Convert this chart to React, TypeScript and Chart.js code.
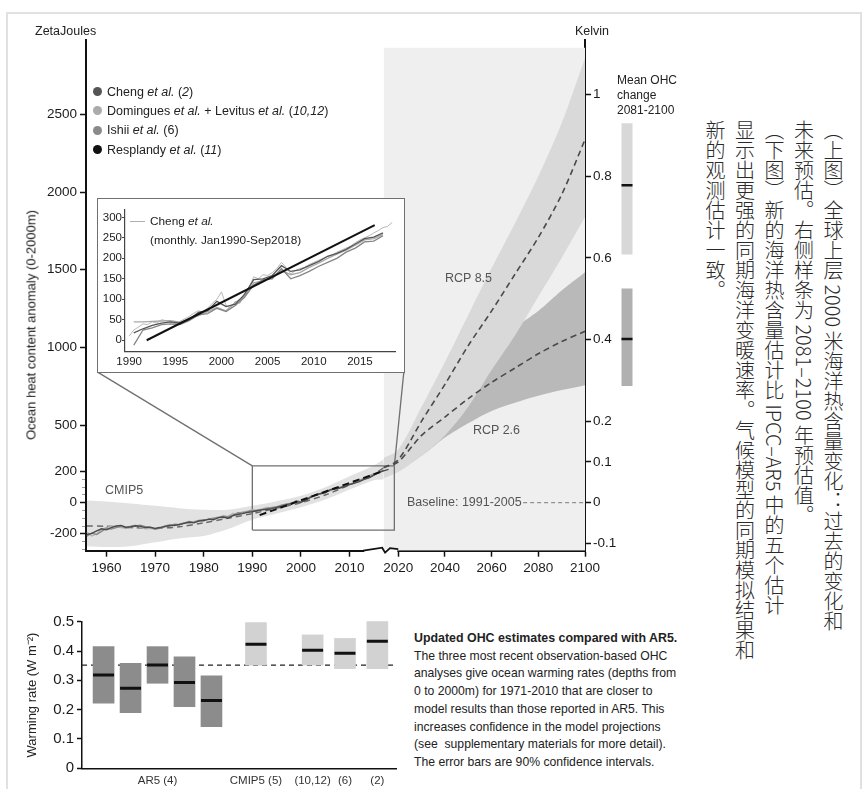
import React, { useEffect, useRef } from "react";
import { Chart, registerables } from "chart.js";
Chart.register(...registerables);

const SANS = "'Liberation Sans', Arial, sans-serif";
const CJK = "'Noto Sans CJK SC', sans-serif";

// ---------------- Main chart: ocean heat content ----------------
const zjTicks = [-200, 0, 200, 500, 1000, 1500, 2000, 2500];
const zjMinorTicks = [-300, -250, -150, -100, -50, 50, 100, 150];
const kelvinTicks = [-0.1, 0, 0.1, 0.2, 0.4, 0.6, 0.8, 1];
const yearTicks = [1960, 1970, 1980, 1990, 2000, 2010, 2020, 2040, 2060, 2080, 2100];

const ZJ_MIN = -309;
const ZJ_MAX = 2979;
const ZJ_PER_K = 2627;
const YEAR_START = 1955.8;
const YEAR_BREAK = 2020;
const YEAR_END = 2100;
const LATE_COMPRESSION = 0.48;

const obsStartYear = 1956;
const chengZJ = [
  -205, -198, -182, -168, -175, -160, -150, -146, -158, -155,
  -148, -152, -160, -157, -166, -160, -152, -147, -145, -140,
  -133, -126, -130, -118, -115, -106, -110, -96, -92, -100,
  -82, -76, -70, -62, -58, -50, -46, -42, -38, -30,
  -22, -12, -6, 8, 2, 16, 34, 52, 58, 64,
  84, 88, 95, 104, 116, 126, 136, 150, 160, 178,
  195, 205, 215,
];
const dominguesZJ = [
  -190, -214, -200, -172, -160, -150, -155, -160, -165, -150,
  -145, -158, -168, -165, -170, -162, -150, -140, -148, -138,
  -128, -130, -122, -112, -118, -104, -100, -92, -98, -88,
  -70, -72, -60, -55, -45, -48, -40, -30, -35, -25,
  -15, -15, 0, 5, 10, 20, 38, 50, 55, 70,
  80, 92, 100, 110, 118, 130, 145, 155, 168, 185,
  198, 208,
];
const ishiiZJ = [
  -215, -195, -205, -185, -165, -170, -160, -150, -162, -158,
  -150, -145, -155, -160, -170, -165, -155, -150, -138, -142,
  -130, -120, -125, -115, -110, -108, -100, -98, -85, -90,
  -85, -65, -66, -58, -52, -55, -44, -38, -30, -28,
  -18, -8, -10, 12, 5, 20, 40, 48, 60, 68,
  78, 95, 98, 108, 120, 128, 140, 158, 165, 180,
  192, 210,
];
const resplandyYears = [1991.5, 2016.5];
const resplandyZJ = [-80, 200];

const cmipYears = [1956, 1960, 1965, 1970, 1975, 1980, 1985, 1990, 1995, 2000, 2005, 2010, 2015, 2017];
const cmipHighZJ = [15, 8, -5, -20, -35, -45, -45, -20, 10, 45, 100, 170, 240, 280];
const cmipLowZJ = [-280, -285, -280, -255, -230, -215, -170, -110, -70, -30, 20, 85, 145, 150];
const cmipMeanZJ = [-150, -152, -160, -165, -155, -130, -100, -70, -35, 0, 50, 115, 185, 225];

const projYears = [2017, 2020, 2030, 2040, 2050, 2060, 2070, 2080, 2090, 2100];
const rcp85HighK = [0.11, 0.13, 0.235, 0.345, 0.46, 0.575, 0.685, 0.8, 0.93, 1.09];
const rcp85LowK = [0.06, 0.075, 0.115, 0.165, 0.235, 0.325, 0.41, 0.505, 0.6, 0.7];
const rcp85MeanK = [0.086, 0.105, 0.2, 0.29, 0.385, 0.47, 0.56, 0.65, 0.755, 0.89];
const rcp26HighK = [0.1, 0.115, 0.19, 0.27, 0.34, 0.39, 0.43, 0.47, 0.52, 0.565];
const rcp26LowK = [0.07, 0.08, 0.115, 0.16, 0.195, 0.225, 0.245, 0.262, 0.276, 0.288];
const rcp26MeanK = [0.086, 0.1, 0.165, 0.21, 0.255, 0.295, 0.33, 0.365, 0.395, 0.42];

const projShadeYears = [2017, 2100];
const projShadeTopK = [1.115, 1.115];
const baselineYears = [2073.5, 2100];
const baselineK = [0, 0];
const zoomBoxYears = [1990, 2019.2];
const zoomBoxZJ = [-176, 237];
const insetAnchorYears = [1958.1, 2022.4];
const insetAnchorZJ = 842;
// axis-break marker on the time axis (years) and its pixel wiggle
const axisBreakYears = [2012.8, 2016.7, 2017.3, 2018.3, 2020];
const axisBreakWiggle = [0, -3, 2, -2.5, -1.5];

// Mean OHC change 2081-2100 (right-hand bars)
const ohcLowK = [0.609, 0.287];
const ohcHighK = [0.929, 0.524];
const ohcMeanK = [0.778, 0.401];
const ohcColors = ["#d8d8d8", "#b0b0b0"];

// ---------------- Inset ----------------
const insetYearTicks = [1990, 1995, 2000, 2005, 2010, 2015];
const insetValueTicks = [0, 50, 100, 150, 200, 250, 300];
const insetStartYear = 1990;
const insetCheng = [18, 28, 36, 42, 45, 42, 50, 68, 72, 95, 82, 88, 112, 148, 150, 158, 182, 168, 172, 182, 192, 205, 212, 222, 235, 248, 252, 262];
const insetDomingues = [45, 45, 46, 47, 48, 44, 52, 60, 70, 80, 72, 92, 108, 140, 145, 155, 170, 160, 165, 178, 188, 200, 210, 220, 232, 245, 248, 258];
const insetIshii = [-12, 25, 30, 38, 40, 38, 48, 62, 65, 78, 70, 85, 105, 135, 148, 150, 175, 150, 158, 168, 180, 190, 200, 215, 225, 240, 242, 255];
const monthlyStartYear = 1990;
const monthlyStep = 0.5;
const chengMonthly = [
  10, 25, 32, 40, 38, 45, 42, 50, 48, 44,
  40, 46, 52, 58, 66, 72, 68, 78, 90, 100,
  118, 85, 78, 95, 90, 115, 130, 155, 150, 160,
  158, 165, 175, 190, 178, 162, 170, 175, 178, 185,
  190, 195, 200, 205, 208, 215, 220, 225, 230, 238,
  245, 250, 255, 262, 268, 275, 278, 288,
];
const insetResplandyYears = [1991.9, 2016.6];
const insetResplandy = [0, 281];

// ---------------- Warming-rate panel ----------------
const rateLabels = ["", "", "AR5 (4)", "", "", "CMIP5 (5)", "(10,12)", "(6)", "(2)"];
const rateLow = [0.222, 0.19, 0.29, 0.21, 0.142, 0.352, 0.352, 0.34, 0.34];
const rateMid = [0.318, 0.273, 0.352, 0.293, 0.231, 0.423, 0.403, 0.392, 0.433];
const rateHigh = [0.415, 0.358, 0.415, 0.38, 0.315, 0.497, 0.455, 0.443, 0.5];
const rateIsAR5 = [true, true, true, true, true, false, false, false, false];
const rateTicks = [0, 0.1, 0.2, 0.3, 0.4, 0.5];
const rateReference = 0.352;
const RATE_SLOTS = [0.8, 1.8, 2.8, 3.8, 4.8, 6.45, 8.55, 9.75, 10.95];
const RATE_X_MAX = 11.66;

// ---------------- helpers ----------------
const xpos = (yr: number) => (yr <= YEAR_BREAK ? yr : YEAR_BREAK + (yr - YEAR_BREAK) * LATE_COMPRESSION);
const series = (years: number[], vals: number[]) => years.map((y, i) => ({ x: xpos(y), y: vals[i] }));
const annual = (start: number, vals: number[]) => vals.map((v, i) => ({ x: xpos(start + i), y: v }));
const plain = (years: number[], vals: number[]) => years.map((y, i) => ({ x: y, y: vals[i] }));

const MAIN_W = 700;
const MAIN_H = 580;
const RATE_TOP = 590;
const RATE_H = 199;

function line(label: string, data: any[], opts: any) {
  return { type: "line", label, data, pointRadius: 0, borderWidth: 1.3, fill: false, tension: 0, ...opts };
}

const axisBreakPlugin = {
  id: "axisBreak",
  afterDraw(chart: any) {
    const xs = chart.scales.x;
    const y0 = chart.chartArea.bottom;
    const ctx = chart.ctx;
    const px = axisBreakYears.map((yr) => xs.getPixelForValue(xpos(yr)));
    ctx.save();
    ctx.fillStyle = "#fff";
    ctx.fillRect(px[0] + 1, y0 - 1.5, px[px.length - 1] - px[0] - 2, 3);
    ctx.strokeStyle = "#111";
    ctx.lineWidth = 1.8;
    ctx.beginPath();
    px.forEach((p, i) => (i === 0 ? ctx.moveTo(p, y0 + axisBreakWiggle[i]) : ctx.lineTo(p, y0 + axisBreakWiggle[i])));
    ctx.stroke();
    ctx.restore();
  },
};

function mainConfig(): any {
  const band = { borderWidth: 0, borderColor: "rgba(0,0,0,0)", tension: 0.3 };
  const [x0, x1] = zoomBoxYears;
  const [z0, z1] = zoomBoxZJ;
  const rect = [
    { x: xpos(x0), y: z0 }, { x: xpos(x1), y: z0 }, { x: xpos(x1), y: z1 }, { x: xpos(x0), y: z1 }, { x: xpos(x0), y: z0 },
  ];
  const tickFont = { family: SANS, size: 13.5 };
  return {
    type: "line",
    plugins: [axisBreakPlugin],
    data: {
      datasets: [
        line("projection", series(projShadeYears, projShadeTopK), { yAxisID: "yK", borderWidth: 0, borderColor: "rgba(0,0,0,0)", backgroundColor: "#efefef", fill: "start", order: 90 }),
        line("cmipHigh", series(cmipYears, cmipHighZJ), { ...band, yAxisID: "yZJ", backgroundColor: "#e2e2e2", fill: "+1", order: 80 }),
        line("cmipLow", series(cmipYears, cmipLowZJ), { ...band, yAxisID: "yZJ", order: 80 }),
        line("rcp26High", series(projYears, rcp26HighK), { ...band, yAxisID: "yK", backgroundColor: "#b9b9b9", fill: "+1", order: 75 }),
        line("rcp26Low", series(projYears, rcp26LowK), { ...band, yAxisID: "yK", order: 75 }),
        line("rcp85High", series(projYears, rcp85HighK), { ...band, yAxisID: "yK", backgroundColor: "#d9d9d9", fill: "+1", order: 70 }),
        line("rcp85Low", series(projYears, rcp85LowK), { ...band, yAxisID: "yK", order: 70 }),
        line("baseline", series(baselineYears, baselineK), { yAxisID: "yK", borderColor: "#7a7a7a", borderWidth: 1, borderDash: [4, 3], order: 60 }),
        line("zoomBox", rect, { yAxisID: "yZJ", borderColor: "#707070", borderWidth: 1.3, order: 50 }),
        line("connL", [{ x: xpos(insetAnchorYears[0]), y: insetAnchorZJ }, { x: xpos(x0), y: z1 }], { yAxisID: "yZJ", borderColor: "#707070", borderWidth: 1.3, order: 50 }),
        line("connR", [{ x: xpos(x1), y: z1 }, { x: xpos(insetAnchorYears[1]), y: insetAnchorZJ }], { yAxisID: "yZJ", borderColor: "#707070", borderWidth: 1.3, order: 50 }),
        line("cmipMean", series(cmipYears, cmipMeanZJ), { yAxisID: "yZJ", borderColor: "#6a6a6a", borderWidth: 1.5, borderDash: [6, 4], tension: 0.3, order: 40 }),
        line("rcp85Mean", series(projYears, rcp85MeanK), { yAxisID: "yK", borderColor: "#4a4a4a", borderWidth: 1.6, borderDash: [6, 4], tension: 0.3, order: 40 }),
        line("rcp26Mean", series(projYears, rcp26MeanK), { yAxisID: "yK", borderColor: "#4a4a4a", borderWidth: 1.6, borderDash: [6, 4], tension: 0.3, order: 40 }),
        line("Domingues", annual(obsStartYear, dominguesZJ), { yAxisID: "yZJ", borderColor: "#b2b2b2", borderWidth: 1.4, order: 30 }),
        line("Ishii", annual(obsStartYear, ishiiZJ), { yAxisID: "yZJ", borderColor: "#8a8a8a", borderWidth: 1.4, order: 25 }),
        line("Cheng", annual(obsStartYear, chengZJ), { yAxisID: "yZJ", borderColor: "#4a4a4a", borderWidth: 1.4, order: 20 }),
        line("Resplandy", series(resplandyYears, resplandyZJ), { yAxisID: "yZJ", borderColor: "#111", borderWidth: 2, borderDash: [7, 4], order: 10 }),
      ],
    },
    options: {
      responsive: false,
      animation: false,
      devicePixelRatio: 1,
      layout: { padding: { left: 0, right: 0, top: 40, bottom: 0 } },
      plugins: { legend: { display: false }, tooltip: { enabled: false } },
      scales: {
        x: {
          type: "linear",
          offset: false,
          min: xpos(YEAR_START),
          max: xpos(YEAR_END),
          bounds: "data",
          afterBuildTicks: (s: any) => { s.ticks = yearTicks.map((y) => ({ value: xpos(y) })); },
          afterFit: (s: any) => { s.height = MAIN_H - 550.7; },
          ticks: { callback: (_v: any, i: number) => String(yearTicks[i]), font: tickFont, color: "#1a1a1a", padding: 3, maxRotation: 0, autoSkip: false },
          grid: { drawOnChartArea: false, tickLength: 6, tickWidth: 1.5, tickColor: "#111" },
          border: { color: "#111", width: 2 },
        },
        yZJ: {
          type: "linear",
          position: "left",
          min: ZJ_MIN,
          max: ZJ_MAX,
          bounds: "data",
          afterBuildTicks: (s: any) => { s.ticks = zjTicks.map((v) => ({ value: v })); },
          afterFit: (s: any) => { s.width = 86; },
          ticks: { callback: (v: any) => String(v), font: tickFont, color: "#1a1a1a", padding: 3 },
          grid: { drawOnChartArea: false, tickLength: 6, tickWidth: 1.5, tickColor: "#111" },
          border: { color: "#111", width: 2 },
        },
        yMinor: {
          type: "linear",
          position: "left",
          weight: -1,
          min: ZJ_MIN,
          max: ZJ_MAX,
          bounds: "data",
          afterBuildTicks: (s: any) => { s.ticks = zjMinorTicks.map((v) => ({ value: v })); },
          afterFit: (s: any) => { s.width = 0; },
          ticks: { callback: () => "", padding: 0 },
          grid: { drawOnChartArea: false, tickLength: 4, tickWidth: 1, tickColor: "#9a9a9a" },
          border: { display: false },
        },
        yK: {
          type: "linear",
          position: "right",
          min: ZJ_MIN / ZJ_PER_K,
          max: ZJ_MAX / ZJ_PER_K,
          bounds: "data",
          afterBuildTicks: (s: any) => { s.ticks = kelvinTicks.map((v) => ({ value: v })); },
          afterFit: (s: any) => { s.width = MAIN_W - 585; },
          ticks: { callback: (v: any) => String(v), font: tickFont, color: "#1a1a1a", padding: 2 },
          grid: { drawOnChartArea: false, tickLength: 6, tickWidth: 1.5, tickColor: "#111" },
          border: { color: "#111", width: 2 },
        },
      },
    },
  };
}

function ohcConfig(): any {
  return {
    type: "scatter",
    data: {
      datasets: [
        {
          type: "scatter",
          label: "mean",
          data: ohcMeanK.map((v) => ({ x: 0, y: v })),
          pointStyle: "line",
          pointRadius: 8,
          borderWidth: 2.5,
          borderColor: "#111",
          order: 1,
        },
        {
          type: "bar",
          label: "range",
          data: ohcLowK.map((lo, i) => ({ x: 0, y: [lo, ohcHighK[i]] })),
          backgroundColor: ohcColors,
          barThickness: 16,
          grouped: false,
          order: 2,
        },
      ],
    },
    options: {
      responsive: false,
      animation: false,
      devicePixelRatio: 1,
      layout: { padding: { left: 0, right: 0, top: 40, bottom: MAIN_H - 550.7 } },
      plugins: { legend: { display: false }, tooltip: { enabled: false } },
      scales: {
        x: { type: "linear", offset: false, min: -1, max: 1, display: false },
        y: { type: "linear", min: ZJ_MIN / ZJ_PER_K, max: ZJ_MAX / ZJ_PER_K, display: false },
      },
    },
  };
}

function insetConfig(): any {
  const tickFont = { family: SANS, size: 11.5 };
  return {
    type: "line",
    data: {
      datasets: [
        line("monthly", chengMonthly.map((v, i) => ({ x: monthlyStartYear + i * monthlyStep, y: v })), { borderColor: "#b8b8b8", borderWidth: 1, order: 40 }),
        line("Domingues", insetDomingues.map((v, i) => ({ x: insetStartYear + i + 0.5, y: v })), { borderColor: "#a8a8a8", borderWidth: 1.3, order: 30 }),
        line("Ishii", insetIshii.map((v, i) => ({ x: insetStartYear + i + 0.5, y: v })), { borderColor: "#858585", borderWidth: 1.3, order: 25 }),
        line("Cheng", insetCheng.map((v, i) => ({ x: insetStartYear + i + 0.5, y: v })), { borderColor: "#555", borderWidth: 1.3, order: 20 }),
        line("Resplandy", plain(insetResplandyYears, insetResplandy), { borderColor: "#111", borderWidth: 2, order: 10 }),
      ],
    },
    options: {
      responsive: false,
      animation: false,
      devicePixelRatio: 1,
      layout: { padding: { left: 0, right: 8, top: 11, bottom: 0 } },
      plugins: { legend: { display: false }, tooltip: { enabled: false } },
      scales: {
        x: {
          type: "linear",
          min: 1989.55,
          max: 2018.8,
          bounds: "data",
          afterBuildTicks: (s: any) => { s.ticks = insetYearTicks.map((v) => ({ value: v })); },
          afterFit: (s: any) => { s.height = 19.3; },
          ticks: { callback: (v: any) => String(v), font: tickFont, color: "#222", padding: 3, maxRotation: 0 },
          grid: { drawOnChartArea: false, drawTicks: false },
          border: { color: "#444", width: 1.2 },
        },
        y: {
          type: "linear",
          min: -28,
          max: 318,
          bounds: "data",
          afterBuildTicks: (s: any) => { s.ticks = insetValueTicks.map((v) => ({ value: v })); },
          afterFit: (s: any) => { s.width = 27; },
          ticks: { callback: (v: any) => String(v), font: tickFont, color: "#222", padding: 0 },
          grid: { drawOnChartArea: false, tickLength: 3, tickWidth: 1, tickColor: "#444" },
          border: { color: "#444", width: 1.2 },
        },
      },
    },
  };
}

function rateConfig(): any {
  return {
    type: "scatter",
    data: {
      datasets: [
        {
          type: "scatter",
          label: "central",
          data: rateMid.map((v, i) => ({ x: RATE_SLOTS[i], y: v })),
          pointStyle: "line",
          pointRadius: 10.5,
          borderWidth: 3,
          borderColor: "#111",
          order: 1,
        },
        {
          type: "bar",
          label: "90% range",
          data: rateLow.map((lo, i) => ({ x: RATE_SLOTS[i], y: [lo, rateHigh[i]] })),
          backgroundColor: rateIsAR5.map((a) => (a ? "#8c8c8c" : "#d2d2d2")),
          barThickness: 21,
          grouped: false,
          clip: false,
          order: 2,
        },
        {
          type: "line",
          label: "reference",
          data: [{ x: 0, y: rateReference }, { x: RATE_X_MAX, y: rateReference }],
          borderColor: "#222",
          borderWidth: 1.2,
          borderDash: [5, 4],
          pointRadius: 0,
          order: 3,
        },
      ],
    },
    options: {
      responsive: false,
      animation: false,
      devicePixelRatio: 1,
      layout: { padding: { left: 0, right: 12, top: 621.7 - RATE_TOP, bottom: 0 } },
      plugins: { legend: { display: false }, tooltip: { enabled: false } },
      scales: {
        x: {
          type: "linear",
          offset: false,
          min: 0,
          max: RATE_X_MAX,
          bounds: "data",
          afterBuildTicks: (s: any) => { s.ticks = RATE_SLOTS.map((v) => ({ value: v })); },
          afterFit: (s: any) => { s.height = RATE_TOP + RATE_H - 768.3; },
          ticks: { callback: (_v: any, i: number) => rateLabels[i], font: { family: SANS, size: 11.5 }, color: "#333", padding: 6, maxRotation: 0, autoSkip: false },
          grid: { drawOnChartArea: false, drawTicks: false, offset: false },
          border: { color: "#111", width: 1.5 },
        },
        y: {
          type: "linear",
          min: 0,
          max: 0.5,
          bounds: "data",
          afterBuildTicks: (s: any) => { s.ticks = rateTicks.map((v) => ({ value: v })); },
          afterFit: (s: any) => { s.width = 82; },
          ticks: { callback: (v: any) => String(v), font: { family: SANS, size: 15 }, color: "#1a1a1a", padding: 3 },
          grid: { drawOnChartArea: false, tickLength: 5, tickWidth: 1.5, tickColor: "#111" },
          border: { color: "#111", width: 1.5 },
          title: { display: true, text: "Warming rate (W m\u207B\u00B2)", font: { family: SANS, size: 13 }, color: "#222", padding: { top: 25, bottom: 0 } },
        },
      },
    },
  };
}

function Txt(props: { x: number; y: number; size: number; children: any; color?: string; weight?: any; lh?: number; style?: any }) {
  const lh = props.lh ?? props.size * 1.2;
  return (
    <div
      style={{
        position: "absolute",
        left: props.x,
        top: props.y - lh / 2,
        fontFamily: SANS,
        fontSize: props.size,
        lineHeight: `${lh}px`,
        color: props.color ?? "#222",
        fontWeight: props.weight ?? "normal",
        whiteSpace: "nowrap",
        ...(props.style || {}),
      }}
    >
      {props.children}
    </div>
  );
}

const legendItems = [
  { color: "#555", label: <span>Cheng <i>et al.</i> (<i>2</i>)</span> },
  { color: "#ababab", label: <span>Domingues <i>et al.</i> + Levitus <i>et al.</i> (<i>10,12</i>)</span> },
  { color: "#8a8a8a", label: <span>Ishii <i>et al.</i> (6)</span> },
  { color: "#111", label: <span>Resplandy <i>et al.</i> (<i>11</i>)</span> },
];

export default function App() {
  const mainRef = useRef<HTMLCanvasElement>(null);
  const ohcRef = useRef<HTMLCanvasElement>(null);
  const insetRef = useRef<HTMLCanvasElement>(null);
  const rateRef = useRef<HTMLCanvasElement>(null);

  useEffect(() => {
    const charts = [
      new Chart(mainRef.current as HTMLCanvasElement, mainConfig()),
      new Chart(ohcRef.current as HTMLCanvasElement, ohcConfig()),
      new Chart(insetRef.current as HTMLCanvasElement, insetConfig()),
      new Chart(rateRef.current as HTMLCanvasElement, rateConfig()),
    ];
    return () => charts.forEach((c) => c.destroy());
  }, []);

  return (
    <div style={{ position: "absolute", left: 0, top: 0, width: 862, height: 789, overflow: "hidden", background: "#fff", fontFamily: SANS }}>
      <div style={{ position: "absolute", left: 6, top: 12, width: 856, height: 800, border: "2.5px solid #e1e1e1", boxSizing: "border-box" }} />

      <canvas ref={mainRef} width={MAIN_W} height={MAIN_H} style={{ position: "absolute", left: 0, top: 0 }} />
      <canvas ref={ohcRef} width={32} height={MAIN_H} style={{ position: "absolute", left: 611, top: 0 }} />

      {/* inset */}
      <div style={{ position: "absolute", left: 96.5, top: 197.5, width: 308, height: 175, border: "1.3px solid #707070", boxSizing: "border-box", background: "#fff" }} />
      <canvas ref={insetRef} width={305} height={172} style={{ position: "absolute", left: 98, top: 199 }} />
      <div style={{ position: "absolute", left: 130, top: 221, width: 15, height: 1, background: "#b0b0b0" }} />
      <Txt x={150} y={221.5} size={11.8}>Cheng <i>et al.</i></Txt>
      <Txt x={150} y={240} size={11.8}>(monthly. Jan1990-Sep2018)</Txt>

      <canvas ref={rateRef} width={410} height={RATE_H} style={{ position: "absolute", left: 0, top: RATE_TOP }} />

      {/* axis labels */}
      <Txt x={35} y={31.5} size={12.5}>ZetaJoules</Txt>
      <Txt x={575} y={31.5} size={12.5}>Kelvin</Txt>
      <div
        style={{
          position: "absolute",
          left: 31,
          top: 325,
          transform: "translate(-50%, -50%) rotate(180deg)",
          writingMode: "vertical-rl",
          fontFamily: SANS,
          fontSize: 13,
          lineHeight: "15px",
          color: "#222",
          whiteSpace: "nowrap",
        }}
      >
        Ocean heat content anomaly (0-2000m)
      </div>

      {/* legend */}
      {legendItems.map((it, i) => (
        <div key={i} style={{ position: "absolute", left: 93, top: 82 + i * 19.3, height: 19.3, display: "flex", alignItems: "center", whiteSpace: "nowrap", fontFamily: SANS, fontSize: 12.5, color: "#222" }}>
          <span style={{ display: "inline-block", width: 9, height: 9, borderRadius: "50%", background: it.color, marginRight: 5 }} />
          {it.label}
        </div>
      ))}

      {/* annotations */}
      <Txt x={105} y={490.5} size={12.5} color="#555">CMIP5</Txt>
      <Txt x={445} y={278.3} size={12.5} color="#555">RCP 8.5</Txt>
      <Txt x={473} y={430.7} size={12.5} color="#555">RCP 2.6</Txt>
      <Txt x={407} y={502.7} size={12.5} color="#555">Baseline: 1991-2005</Txt>
      <div style={{ position: "absolute", left: 617, top: 72.5, fontFamily: SANS, fontSize: 12, lineHeight: "15px", color: "#222", whiteSpace: "nowrap" }}>
        Mean OHC<br />change<br />2081-2100
      </div>

      {/* bottom note */}
      <div style={{ position: "absolute", left: 414, top: 630, fontFamily: SANS, fontSize: 12.2, lineHeight: "17.7px", color: "#222", whiteSpace: "nowrap" }}>
        <b style={{ fontSize: 12.4 }}>Updated OHC estimates compared with AR5.</b><br />
        The three most recent observation-based OHC<br />
        analyses give ocean warming rates (depths from<br />
        0 to 2000m) for 1971-2010 that are closer to<br />
        model results than those reported in AR5. This<br />
        increases confidence in the model projections<br />
        (see&nbsp; supplementary materials for more detail).<br />
        The error bars are 90% confidence intervals.
      </div>

      {/* Chinese caption */}
      <div
        style={{
          position: "absolute",
          left: 700,
          top: 120,
          width: 148,
          height: 560,
          writingMode: "vertical-rl",
          fontFamily: CJK,
          fontSize: 20,
          fontWeight: 300,
          lineHeight: "29.5px",
          color: "#2a2a2a",
          whiteSpace: "nowrap",
        }}
      >
        （上图）全球上层 2000 米海洋热含量变化：过去的变化和<br />
        未来预估。右侧样条为 2081–2100 年预估值。<br />
        （下图）新的海洋热含量估计比 IPCC–AR5 中的五个估计<br />
        显示出更强的同期海洋变暖速率。气候模型的同期模拟结果和<br />
        新的观测估计一致。
      </div>
    </div>
  );
}
